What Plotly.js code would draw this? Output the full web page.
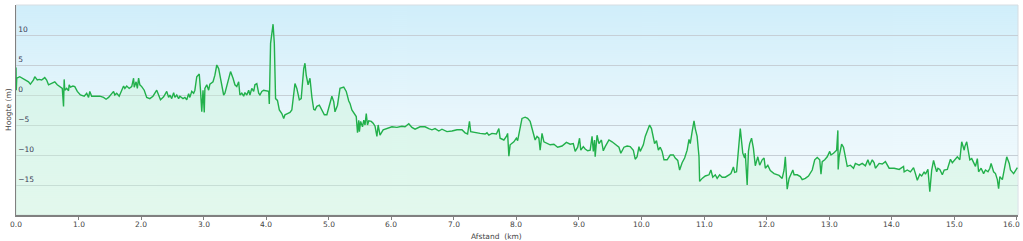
<!DOCTYPE html>
<html>
<head>
<meta charset="utf-8">
<script src="https://cdn.plot.ly/plotly-3.0.1.min.js"></script>
<style>
html,body{margin:0;padding:0;background:#ffffff;}
#chart{width:1023px;height:241px;}
</style>
</head>
<body>
<div id="chart"></div>
<script>
// Distance along the route (km)
const distKm = [
0.00,0.004,0.012,0.06,0.14,0.20,0.23,0.28,0.30,0.34,0.37,0.41,0.46,0.49,0.52,0.57,0.62,0.66,0.70,0.74,
0.76,0.77,0.78,0.81,0.84,0.85,0.87,0.91,0.94,0.98,1.03,1.09,1.13,1.16,1.18,1.21,1.26,1.34,1.40,1.44,
1.48,1.53,1.56,1.58,1.61,1.65,1.69,1.72,1.74,1.77,1.81,1.85,1.88,1.89,1.92,1.94,1.96,1.98,2.01,2.05,
2.09,2.14,2.19,2.22,2.25,2.28,2.31,2.36,2.41,2.44,2.46,2.49,2.52,2.54,2.57,2.60,2.62,2.67,2.70,2.73,
2.76,2.78,2.81,2.84,2.86,2.89,2.92,2.93,2.95,2.97,2.99,3.01,3.02,3.05,3.08,3.10,3.15,3.18,3.21,3.24,
3.26,3.29,3.32,3.34,3.37,3.40,3.43,3.47,3.50,3.53,3.56,3.58,3.61,3.64,3.66,3.69,3.72,3.74,3.77,3.80,
3.82,3.85,3.88,3.90,3.93,3.96,4.00,4.04,4.05,4.07,4.11,4.13,4.15,4.18,4.21,4.25,4.28,4.30,4.34,4.38,
4.41,4.44,4.46,4.49,4.53,4.56,4.60,4.62,4.64,4.67,4.70,4.73,4.76,4.78,4.81,4.85,4.89,4.93,4.97,5.01,
5.05,5.08,5.10,5.14,5.18,5.24,5.28,5.32,5.34,5.37,5.41,5.44,5.46,5.48,5.49,5.51,5.54,5.56,5.58,5.60,
5.62,5.64,5.68,5.71,5.74,5.77,5.79,5.82,5.87,5.93,6.01,6.09,6.17,6.22,6.28,6.33,6.38,6.46,6.54,6.60,
6.65,6.70,6.76,6.81,6.89,6.97,7.05,7.13,7.18,7.22,7.25,7.27,7.34,7.42,7.50,7.53,7.56,7.61,7.68,7.72,
7.74,7.80,7.84,7.86,7.88,7.90,7.96,8.00,8.02,8.05,8.09,8.14,8.18,8.22,8.27,8.30,8.33,8.36,8.38,8.41,
8.44,8.49,8.54,8.60,8.66,8.73,8.80,8.86,8.91,8.94,8.98,9.01,9.03,9.07,9.10,9.14,9.18,9.21,9.23,9.25,
9.26,9.29,9.32,9.36,9.39,9.42,9.48,9.53,9.58,9.64,9.67,9.72,9.77,9.82,9.87,9.90,9.93,9.96,9.98,10.03,
10.06,10.10,10.13,10.16,10.19,10.21,10.24,10.27,10.30,10.33,10.36,10.41,10.46,10.51,10.54,10.58,10.61,10.65,10.69,10.73,
10.76,10.78,10.81,10.84,10.86,10.89,10.92,10.93,10.97,11.02,11.08,11.11,11.14,11.18,11.21,11.25,11.29,11.34,11.40,11.43,
11.47,11.49,11.52,11.54,11.58,11.62,11.65,11.66,11.69,11.71,11.73,11.76,11.79,11.82,11.86,11.89,11.93,11.96,11.98,12.02,
12.06,12.12,12.20,12.25,12.28,12.30,12.33,12.36,12.40,12.42,12.44,12.49,12.54,12.57,12.62,12.67,12.73,12.77,12.81,12.85,
12.87,12.89,12.93,12.97,13.01,13.03,13.07,13.12,13.14,13.145,13.16,13.20,13.23,13.26,13.29,13.34,13.39,13.42,13.48,13.53,
13.58,13.62,13.65,13.69,13.72,13.74,13.80,13.85,13.90,13.96,14.04,14.12,14.19,14.20,14.25,14.30,14.35,14.38,14.41,14.45,
14.48,14.52,14.54,14.58,14.61,14.64,14.67,14.69,14.72,14.74,14.77,14.81,14.84,14.89,14.94,14.97,15.01,15.05,15.09,15.12,
15.16,15.17,15.20,15.22,15.25,15.28,15.31,15.34,15.37,15.39,15.43,15.47,15.50,15.54,15.57,15.59,15.63,15.66,15.69,15.71,
15.73,15.77,15.81,15.84,15.88,15.90,15.95,15.98,16.01
];
// Elevation (m)
const elevM = [
4.6,0.8,2.8,3.05,2.6,2.2,1.8,2.5,3.05,2.5,2.6,2.5,2.9,2.5,1.7,1.9,2.2,1.7,1.4,1.1,
-1.9,2.6,0.8,1.1,0.7,1.7,1.3,1.5,1.4,0.6,0.0,-0.2,0.3,-0.4,0.6,-0.2,-0.2,-0.2,-0.4,-0.7,
-0.4,0.3,0.6,0.0,0.3,-0.2,0.8,1.5,1.1,1.5,1.1,1.4,2.8,1.3,2.2,1.1,2.8,1.7,1.4,0.8,
-0.4,-0.6,-0.2,0.4,0.8,0.0,-0.8,-0.3,0.6,-0.4,0.0,-0.6,0.4,-0.4,0.0,-0.6,-0.2,-0.6,-0.4,-0.8,
0.2,-0.4,0.6,0.3,0.8,3.05,3.3,3.5,0.8,-2.8,0.8,-2.9,1.1,1.7,0.8,1.8,2.2,3.3,5.0,4.4,
3.3,1.9,0.0,0.3,1.5,2.8,3.9,2.8,1.7,1.4,2.2,0.0,0.3,-0.2,0.4,0.0,0.8,0.0,1.1,0.6,
1.7,1.9,0.3,0.0,0.6,0.8,0.7,0.6,-1.5,8.6,11.8,8.6,-0.6,-0.9,-2.5,-3.1,-3.9,-3.3,-3.1,-2.9,
-2.5,0.3,1.9,1.1,-0.8,-0.6,4.4,5.3,3.3,1.7,2.8,-0.3,-2.4,-2.5,-1.9,-1.7,-2.5,-3.3,-3.3,-1.7,
-0.2,-1.1,-2.8,-1.7,1.1,1.3,0.6,-1.0,-1.4,-2.5,-3.1,-3.6,-6.3,-4.2,-6.1,-4.4,-5.3,-4.2,-5.0,-3.1,
-5.0,-4.3,-4.4,-4.7,-5.2,-6.9,-5.0,-6.7,-5.8,-5.6,-5.3,-5.4,-5.2,-5.3,-4.8,-5.4,-5.7,-5.3,-5.3,-5.6,
-5.8,-5.6,-6.0,-5.7,-6.1,-6.0,-5.8,-5.8,-6.3,-6.5,-4.4,-6.1,-6.3,-6.4,-6.5,-6.3,-6.7,-6.4,-6.5,-5.6,
-7.2,-7.5,-6.9,-6.4,-10.2,-8.3,-7.8,-7.2,-7.6,-6.1,-3.9,-3.7,-3.9,-4.4,-6.1,-7.5,-6.9,-7.2,-9.2,-6.4,
-7.8,-8.1,-8.3,-8.2,-8.7,-8.5,-7.9,-8.2,-8.1,-9.4,-8.7,-7.2,-9.2,-8.6,-9.0,-9.3,-9.2,-6.9,-9.4,-7.5,
-10.3,-6.7,-8.1,-7.5,-9.3,-8.6,-7.5,-7.8,-8.2,-8.7,-9.7,-8.7,-8.5,-8.6,-9.2,-10.7,-10.3,-8.6,-9.4,-8.3,
-6.9,-5.7,-5.0,-5.6,-7.5,-8.1,-7.6,-9.2,-8.7,-9.4,-10.8,-10.8,-10.0,-10.0,-10.5,-10.9,-12.5,-11.3,-10.5,-9.2,
-7.4,-8.1,-6.1,-4.3,-5.6,-6.9,-10.3,-14.4,-13.9,-13.5,-13.3,-12.5,-13.7,-13.3,-13.9,-13.3,-13.7,-13.7,-13.3,-13.1,
-12.0,-12.9,-12.8,-10.5,-5.6,-9.7,-10.5,-9.7,-15.0,-9.4,-8.1,-7.2,-8.9,-11.8,-10.3,-11.7,-10.8,-10.5,-12.2,-11.7,
-12.6,-13.1,-13.4,-13.9,-12.5,-10.3,-15.7,-13.9,-13.1,-12.5,-13.3,-13.3,-13.6,-14.1,-13.9,-13.5,-12.5,-10.8,-10.4,-10.8,
-13.2,-11.1,-10.8,-10.3,-9.4,-10.0,-9.7,-9.2,-5.9,-12.4,-10.3,-8.2,-8.7,-10.3,-11.9,-11.7,-12.2,-11.4,-11.7,-11.4,
-11.8,-10.8,-11.7,-10.8,-11.3,-12.2,-11.4,-11.5,-11.1,-12.2,-12.2,-12.4,-11.9,-12.8,-12.5,-12.8,-12.1,-13.1,-14.2,-13.2,
-13.5,-12.8,-13.2,-12.4,-16.1,-12.5,-10.9,-11.7,-12.8,-12.2,-12.4,-13.3,-12.5,-12.4,-10.7,-11.3,-10.7,-10.3,-10.8,-7.8,
-9.2,-8.6,-7.8,-9.2,-10.8,-10.6,-11.4,-11.9,-10.6,-12.8,-12.2,-13.1,-12.5,-12.8,-12.2,-11.4,-12.8,-13.1,-14.1,-15.6,
-13.6,-14.1,-11.9,-10.3,-11.4,-12.5,-13.1,-12.5,-12.1
];
const yTickVals = [-15, -10, -5, 0, 5, 10];
const xTickVals = [0,1,2,3,4,5,6,7,8,9,10,11,12,13,14,15,16];
const xTickText = ['0.0','1.0','2.0','3.0','4.0','5.0','6.0','7.0','8.0','9.0','10.0','11.0','12.0','13.0','14.0','15.0','16.0'];

const X_RANGE = [0, 16.02];
const Y_RANGE = [-20, 15];

// vertical gradient image for the plot background
function gradientURI() {
  const c = document.createElement('canvas');
  c.width = 4; c.height = 210;
  const g = c.getContext('2d');
  const gr = g.createLinearGradient(0, 0, 0, 210);
  gr.addColorStop(0, '#d0eefa');
  gr.addColorStop(0.5, '#e7f6fc');
  gr.addColorStop(1, '#f5fbfd');
  g.fillStyle = gr;
  g.fillRect(0, 0, 4, 210);
  return c.toDataURL('image/png');
}

const traces = [
  { // baseline for area fill
    x: [distKm[0], distKm[distKm.length - 1]],
    y: [Y_RANGE[0], Y_RANGE[0]],
    mode: 'lines', line: {width: 0, color: 'rgba(0,0,0,0)'},
    hoverinfo: 'skip', showlegend: false
  },
  {
    x: distKm, y: elevM,
    mode: 'lines', fill: 'tonexty',
    fillcolor: 'rgba(200,245,212,0.40)',
    line: {color: '#22b04b', width: 1.4},
    hoverinfo: 'skip', showlegend: false
  }
];

// x tick labels placed on the x scale
const last = xTickVals.length - 1;
const xLabelAnnotations = xTickVals.map((v, i) => ({
  text: xTickText[i], xref: 'x', yref: 'paper', x: v, y: -9 / 210,
  xanchor: i === last ? 'right' : 'center', xshift: i === last ? 5 : 0,
  yanchor: 'middle', showarrow: false,
  font: {size: 7.5, color: '#444'}
}));

const layout = {
  width: 1023, height: 241,
  margin: {l: 16, r: 5, t: 5, b: 26},
  paper_bgcolor: '#ffffff',
  plot_bgcolor: 'rgba(0,0,0,0)',
  font: {family: 'DejaVu Sans, Verdana, sans-serif', size: 8, color: '#444'},
  showlegend: false,
  images: [{
    source: gradientURI(), xref: 'paper', yref: 'paper',
    x: 0, y: 1, sizex: 1, sizey: 1, sizing: 'stretch',
    xanchor: 'left', yanchor: 'top', layer: 'below'
  }],
  xaxis: {
    range: X_RANGE, tickvals: xTickVals, showticklabels: false,
    showgrid: false, zeroline: false,
    showline: true, linecolor: '#808080', linewidth: 1.5,
    ticks: 'outside', ticklen: 3, tickcolor: '#808080'
  },
  yaxis: {
    range: Y_RANGE, tickvals: yTickVals,
    ticklabelposition: 'inside top',
    showgrid: true, gridcolor: '#c6cfd6', gridwidth: 1,
    zeroline: false,
    showline: true, linecolor: '#808080', linewidth: 1.5,
    ticks: '', tickfont: {size: 7.5, color: '#3a3a55'}
  },
  shapes: [{
    type: 'rect', xref: 'paper', yref: 'paper', x0: 0, x1: 1, y0: 0, y1: 1,
    line: {color: '#d6dde2', width: 1}, layer: 'below'
  }],
  annotations: xLabelAnnotations.concat([
    {text: 'Hoogte (m)', xref: 'paper', yref: 'paper', x: -8 / 1002, y: 0.5,
     xanchor: 'center', yanchor: 'middle', textangle: -90, showarrow: false,
     font: {size: 7.5, color: '#444'}},
    {text: 'Afstand  (km)', xref: 'paper', yref: 'paper', x: 0.48, y: -21 / 210,
     xanchor: 'center', yanchor: 'middle', showarrow: false,
     font: {size: 7.5, color: '#444'}}
  ])
};

Plotly.newPlot('chart', traces, layout, {staticPlot: true, displayModeBar: false});
</script>
</body>
</html>
